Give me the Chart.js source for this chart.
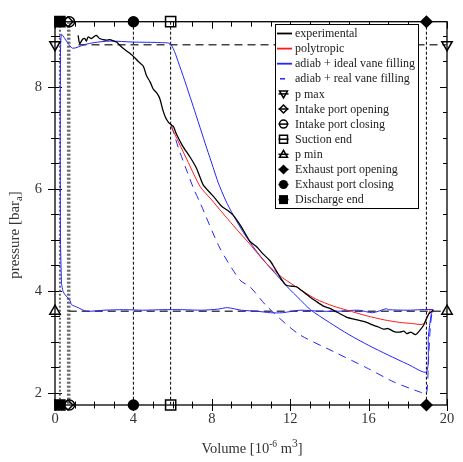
<!DOCTYPE html>
<html>
<head>
<meta charset="utf-8">
<script src="https://cdn.jsdelivr.net/npm/chart.js@4.4.0/dist/chart.umd.min.js"></script>
<style>
html, body { margin: 0; padding: 0; background: #fff; }
</style>
</head>
<body>
<canvas id="c" width="463" height="462"></canvas>
<script>
// volume in 1e-6 m3, pressure in bar a
var expV = [1.18, 1.26, 1.40, 1.52, 1.60, 1.69, 1.86, 2.00, 2.11, 2.28, 2.45, 2.63, 2.80, 3.00, 3.14, 3.30, 3.47, 3.75, 4.00, 4.25, 4.50, 4.67, 4.85, 5.01, 5.20, 5.35, 5.50, 5.64, 5.80, 5.95, 6.05, 6.20, 6.50, 6.88, 7.20, 7.39, 7.56, 7.90, 8.20, 8.50, 8.80, 9.10, 9.50, 9.95, 10.30, 10.60, 10.97, 11.20, 11.48, 11.80, 12.10, 12.33, 12.60, 13.00, 13.30, 13.70, 14.00, 14.40, 14.90, 15.30, 15.90, 16.20, 16.50, 16.76, 17.00, 17.30, 17.60, 17.80, 17.95, 18.15, 18.40, 18.60, 18.80, 19.06, 19.30]
var expP = [9.01, 8.85, 8.93, 8.95, 8.90, 8.98, 8.95, 8.99, 9.01, 8.95, 8.93, 8.92, 8.93, 8.90, 8.88, 8.82, 8.76, 8.68, 8.60, 8.50, 8.41, 8.22, 8.10, 7.96, 7.88, 7.77, 7.55, 7.40, 7.30, 7.25, 7.22, 7.07, 6.85, 6.63, 6.42, 6.24, 6.08, 5.93, 5.80, 5.66, 5.58, 5.48, 5.26, 4.97, 4.86, 4.73, 4.59, 4.45, 4.27, 4.11, 4.09, 4.08, 4.00, 3.88, 3.80, 3.70, 3.66, 3.58, 3.48, 3.44, 3.38, 3.33, 3.29, 3.25, 3.26, 3.20, 3.19, 3.21, 3.16, 3.19, 3.14, 3.22, 3.32, 3.54, 3.62]

var polyV = [5.92, 6.30, 6.80, 7.40, 8.00, 8.50, 9.10, 9.95, 10.80, 11.60, 12.50, 13.30, 14.20, 14.90, 15.90, 16.80, 17.60, 18.20, 18.80, 19.15]
var polyP = [7.23, 6.92, 6.52, 6.05, 5.78, 5.55, 5.28, 4.91, 4.53, 4.26, 4.03, 3.84, 3.70, 3.62, 3.51, 3.43, 3.38, 3.36, 3.35, 3.63]

var idealV = [0.33, 0.28, 0.27, 0.28, 0.33, 0.55, 0.90, 1.50, 2.00, 2.80, 4.00, 5.36, 5.90, 6.37, 7.05, 7.74, 8.07, 8.33, 8.70, 9.10, 9.62, 10.20, 10.80, 11.85, 12.50, 13.03, 14.00, 15.00, 16.00, 17.00, 18.00, 18.95, 19.05, 19.20, 19.30, 18.00, 17.00, 16.90, 16.20, 15.50, 14.50, 13.50, 12.50, 11.60, 11.00, 10.30, 9.50, 8.80, 8.30, 7.50, 6.50, 5.50, 4.50, 3.50, 2.50, 1.60, 1.18, 0.84, 0.78, 0.66, 0.50, 0.41, 0.33]
var idealP = [4.14, 5.00, 7.00, 8.60, 9.03, 8.92, 8.76, 8.83, 8.87, 8.90, 8.88, 8.87, 8.84, 8.40, 7.62, 6.80, 6.42, 6.12, 5.78, 5.48, 5.14, 4.82, 4.53, 4.08, 3.83, 3.63, 3.38, 3.14, 2.93, 2.74, 2.56, 2.41, 3.10, 3.55, 3.63, 3.62, 3.63, 3.65, 3.57, 3.62, 3.60, 3.60, 3.62, 3.57, 3.57, 3.60, 3.62, 3.67, 3.64, 3.62, 3.63, 3.63, 3.62, 3.63, 3.62, 3.60, 3.67, 3.73, 3.80, 3.86, 3.93, 3.99, 4.14]

var realV = [5.95, 6.30, 6.71, 7.10, 7.39, 8.41, 9.44, 9.95, 10.80, 12.40, 14.20, 15.90, 17.30, 18.65, 18.95, 19.05, 19.15, 19.25]
var realP = [7.23, 6.80, 6.37, 5.98, 5.74, 4.84, 4.21, 4.08, 3.70, 3.16, 2.81, 2.49, 2.21, 2.01, 1.98, 2.60, 3.30, 3.62]

var xTicks = [0, 4, 8, 12, 16, 20]
var yTicks = [2, 4, 6, 8]
var X_MIN = 0, X_MAX = 20, Y_MIN = 1.76, Y_MAX = 9.28

var pMax = 8.83, pMin = 3.6
var vDischargeEnd = 0.25, vIntakeOpen = 0.66, vIntakeClose = 0.74
var vExhaustClose = 4, vSuctionEnd = 5.9, vExhaustOpen = 18.95

var FONT = '"Liberation Serif", "Times New Roman", serif'
var BLUE = '#2424ff'

function xy(vs, ps) { return vs.map(function (v, i) { return {x: v, y: ps[i]} }) }
function edges(v) { return [{x: v, y: Y_MAX}, {x: v, y: Y_MIN}] }

function curve(label, vs, ps, color, width, dash) {
    return {label: label, data: xy(vs, ps), showLine: true, borderColor: color, borderWidth: width,
        borderDash: dash || [], pointRadius: 0, fill: false, order: 2, tension: 0.25, kind: dash ? 'dash' : 'line'}
}
function marker(label, data, style, filled, r, rot, sym) {
    return {label: label, data: data, showLine: false, pointStyle: style, pointRadius: r,
        pointRotation: rot || 0, pointBorderColor: '#000', pointBorderWidth: 1.5,
        pointBackgroundColor: filled ? '#000' : 'rgba(0,0,0,0)', clip: false, order: 1, kind: 'sym', sym: sym}
}
function refLine(data, color, width, dash) {
    return {label: '', data: data, showLine: true, borderColor: color, borderWidth: width, borderDash: dash,
        pointRadius: 0, order: 3, kind: 'ref', clip: false}
}

var datasets = [
    curve('experimental', expV, expP, '#000', 1.3),
    curve('polytropic', polyV, polyP, '#ff1a1a', 1),
    curve('adiab + ideal vane filling', idealV, idealP, BLUE, 1),
    curve('adiab + real vane filling', realV, realP, BLUE, 1, [8, 6]),
    marker('p max', [{x: X_MIN, y: pMax}, {x: X_MAX, y: pMax}], 'triangle', false, 6, 180, 'triDown'),
    marker('Intake port opening', edges(vIntakeOpen), 'rectRot', false, 5, 0, 'diamondOpen'),
    marker('Intake port closing', edges(vIntakeClose), 'circle', false, 5, 0, 'circleOpen'),
    marker('Suction end', edges(vSuctionEnd), 'rect', false, 7.2, 0, 'squareOpen'),
    marker('p min', [{x: X_MIN, y: pMin}, {x: X_MAX, y: pMin}], 'triangle', false, 6, 0, 'triUp'),
    marker('Exhaust port opening', edges(vExhaustOpen), 'rectRot', true, 5.5, 0, 'diamond'),
    marker('Exhaust port closing', edges(vExhaustClose), 'circle', true, 5, 0, 'circle'),
    marker('Discharge end', edges(vDischargeEnd), 'rect', true, 7.2, 0, 'square'),
    refLine([{x: 1.2, y: pMax}, {x: X_MAX, y: pMax}], '#444', 1.5, [8, 5]),
    refLine([{x: 0.7, y: pMin}, {x: X_MAX, y: pMin}], '#444', 1.5, [8, 5]),
    refLine(edges(vDischargeEnd), '#666', 2, [2, 2]),
    refLine(edges(vIntakeOpen), '#666', 2, [2, 2]),
    refLine(edges(vIntakeClose), '#666', 2, [2, 2]),
    refLine(edges(vExhaustClose), '#000', 1, [3, 2]),
    refLine(edges(vSuctionEnd), '#000', 1, [3, 2]),
    refLine(edges(vExhaustOpen), '#000', 1, [3, 2])
]

// frame + inward/crossing tick marks like the original plot
var framePlugin = {
    id: 'frame',
    beforeDatasetsDraw: function (chart) {
        var ctx = chart.ctx, a = chart.chartArea, sx = chart.scales.x, sy = chart.scales.y
        ctx.save()
        ctx.strokeStyle = '#000'
        ctx.lineWidth = 1.3
        ctx.strokeRect(a.left, a.top, a.right - a.left, a.bottom - a.top)
        ctx.lineWidth = 1
        ctx.beginPath()
        for (var v = X_MIN; v <= X_MAX; v++) {
            var px = Math.round(sx.getPixelForValue(v)) + 0.5
            var major = v % 4 === 0
            var h = major ? 6 : 3.5
            ctx.moveTo(px, a.bottom - h); ctx.lineTo(px, a.bottom + h)
            ctx.moveTo(px, a.top); ctx.lineTo(px, a.top + (major ? 7 : 5))
        }
        for (var p = 2; p <= 9; p += 0.5) {
            var py = Math.round(sy.getPixelForValue(p)) + 0.5
            var maj = p % 2 === 0
            ctx.moveTo(a.left - (maj ? 7 : 4), py); ctx.lineTo(a.left + (maj ? 7 : 5), py)
            ctx.moveTo(a.right, py); ctx.lineTo(a.right - (maj ? 7 : 4), py)
        }
        ctx.stroke()
        ctx.restore()
    },
    afterDraw: function (chart) {
        var ctx = chart.ctx, a = chart.chartArea
        ctx.save()
        ctx.fillStyle = '#333'
        // x title with superscripts
        var parts = [['Volume [10', 14.5, 0], ['-6', 9.5, -6], [' m', 14.5, 0], ['3', 11.5, -6], [']', 14.5, 0]]
        var w = 0
        parts.forEach(function (pt) { ctx.font = pt[1] + 'px ' + FONT; w += ctx.measureText(pt[0]).width })
        var x = (a.left + a.right) / 2 - w / 2 + 1, y = 453
        ctx.textBaseline = 'alphabetic'
        parts.forEach(function (pt) {
            ctx.font = pt[1] + 'px ' + FONT
            ctx.fillText(pt[0], x, y + pt[2])
            x += ctx.measureText(pt[0]).width
        })
        // y title with subscript
        ctx.translate(19, 235)
        ctx.rotate(-Math.PI / 2)
        var yp = [['pressure [bar', 15, 0], ['a', 10.5, 3], [']', 15, 0]]
        w = 0
        yp.forEach(function (pt) { ctx.font = pt[1] + 'px ' + FONT; w += ctx.measureText(pt[0]).width })
        x = -w / 2
        yp.forEach(function (pt) {
            ctx.font = pt[1] + 'px ' + FONT
            ctx.fillText(pt[0], x, pt[2])
            x += ctx.measureText(pt[0]).width
        })
        ctx.restore()
        drawLegend(chart)
    }
}

function drawSym(ctx, sym, x, y) {
    ctx.save()
    ctx.strokeStyle = '#000'; ctx.fillStyle = '#000'; ctx.lineWidth = 1.5
    ctx.beginPath(); ctx.moveTo(x - 5, y); ctx.lineTo(x + 5, y); ctx.stroke()
    ctx.beginPath()
    var r = 4
    if (sym === 'triDown') { ctx.moveTo(x - r, y - r + 1); ctx.lineTo(x + r, y - r + 1); ctx.lineTo(x, y + r); ctx.closePath(); ctx.stroke() }
    else if (sym === 'triUp') { ctx.moveTo(x - r, y + r - 1); ctx.lineTo(x + r, y + r - 1); ctx.lineTo(x, y - r); ctx.closePath(); ctx.stroke() }
    else if (sym === 'diamondOpen') { ctx.moveTo(x, y - r); ctx.lineTo(x + r, y); ctx.lineTo(x, y + r); ctx.lineTo(x - r, y); ctx.closePath(); ctx.stroke() }
    else if (sym === 'diamond') { ctx.moveTo(x, y - r - 1); ctx.lineTo(x + r + 1, y); ctx.lineTo(x, y + r + 1); ctx.lineTo(x - r - 1, y); ctx.closePath(); ctx.fill() }
    else if (sym === 'circleOpen') { ctx.arc(x, y, r, 0, Math.PI * 2); ctx.stroke() }
    else if (sym === 'circle') { ctx.arc(x, y, r + 0.5, 0, Math.PI * 2); ctx.fill() }
    else if (sym === 'squareOpen') { ctx.rect(x - r, y - r, 2 * r, 2 * r); ctx.stroke() }
    else if (sym === 'square') { ctx.rect(x - r - 0.5, y - r - 0.5, 2 * r + 1, 2 * r + 1); ctx.fill() }
    ctx.restore()
}

function drawLegend(chart) {
    var ctx = chart.ctx
    var items = chart.data.datasets.filter(function (d) { return d.kind !== 'ref' })
    ctx.save()
    ctx.fillStyle = '#fff'
    ctx.fillRect(275, 24, 143, 184)
    ctx.strokeStyle = '#000'; ctx.lineWidth = 1
    ctx.strokeRect(275.5, 24.5, 143, 184)
    ctx.font = '12px ' + FONT
    ctx.textBaseline = 'middle'
    items.forEach(function (d, i) {
        var y = 33.5 + 15.1 * i
        if (d.kind === 'line') {
            ctx.strokeStyle = d.borderColor; ctx.lineWidth = 1.8; ctx.setLineDash([])
            ctx.beginPath(); ctx.moveTo(277, y); ctx.lineTo(292, y); ctx.stroke()
        } else if (d.kind === 'dash') {
            ctx.strokeStyle = d.borderColor; ctx.lineWidth = 1.5; ctx.setLineDash([])
            ctx.beginPath(); ctx.moveTo(280, y); ctx.lineTo(285, y); ctx.stroke()
        } else {
            drawSym(ctx, d.sym, 283.5, y)
        }
        ctx.fillStyle = '#222'
        ctx.fillText(d.label, 295, y + 0.5)
    })
    ctx.restore()
}

new Chart(document.getElementById('c').getContext('2d'), {
    type: 'scatter',
    data: {datasets: datasets},
    options: {
        responsive: false,
        animation: false,
        devicePixelRatio: 1,
        layout: {padding: {top: 11, right: 16, left: 0, bottom: 0}},
        plugins: {legend: {display: false}, tooltip: {enabled: false}},
        scales: {
            x: {
                type: 'linear', min: X_MIN, max: X_MAX,
                afterBuildTicks: function (s) { s.ticks = xTicks.map(function (v) { return {value: v} }) },
                afterFit: function (s) { s.height = 57 },
                grid: {display: false, drawTicks: false},
                border: {display: false},
                ticks: {padding: 5, color: '#333', maxRotation: 0, font: {family: FONT, size: 14.5}}
            },
            y: {
                type: 'linear', min: Y_MIN, max: Y_MAX,
                afterBuildTicks: function (s) { s.ticks = yTicks.map(function (v) { return {value: v} }) },
                afterFit: function (s) { s.width = 55 },
                grid: {display: false, drawTicks: false},
                border: {display: false},
                ticks: {padding: 13, color: '#333', font: {family: FONT, size: 14.5}}
            }
        }
    },
    plugins: [framePlugin]
})
</script>
</body>
</html>
